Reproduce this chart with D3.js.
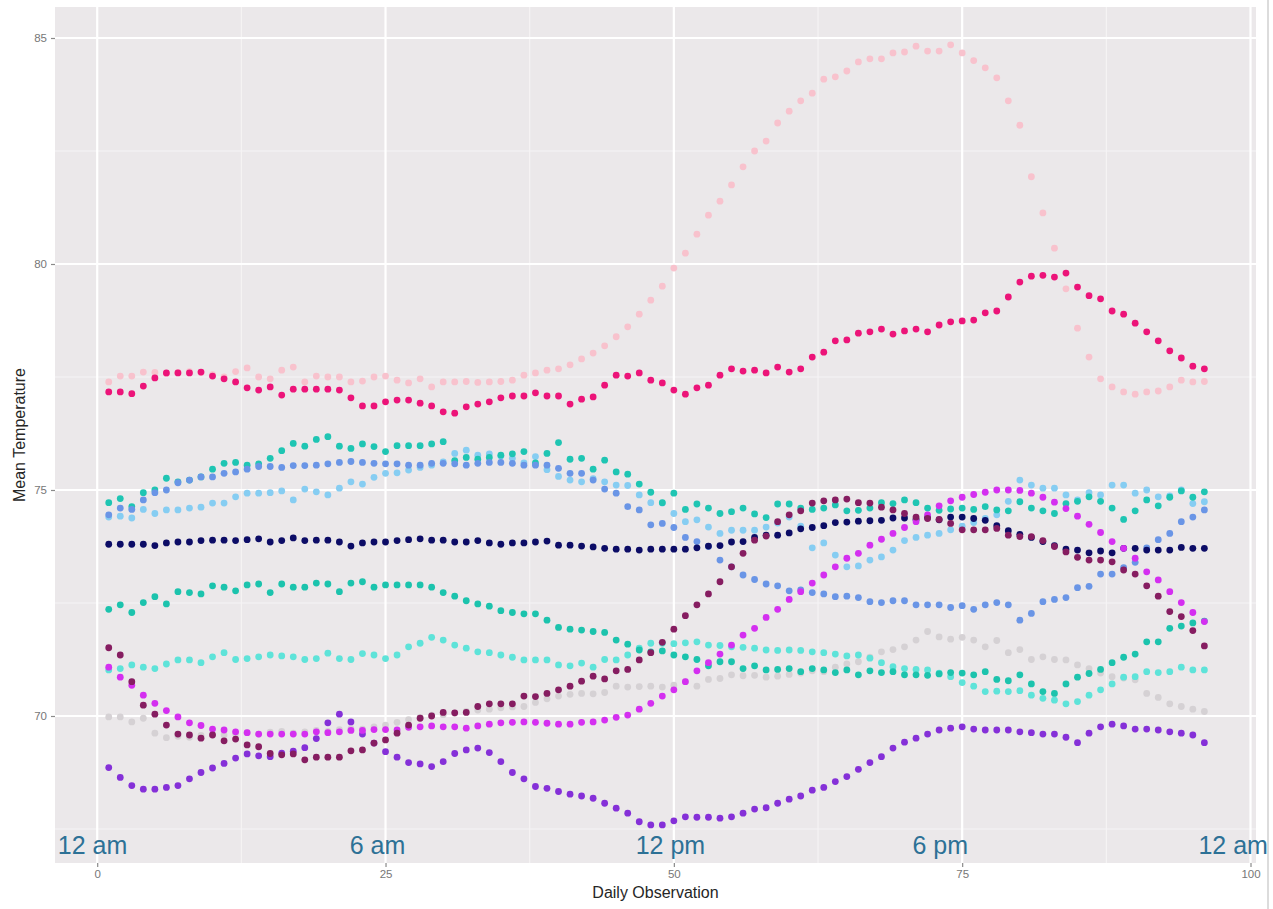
<!DOCTYPE html>
<html>
<head>
<meta charset="utf-8">
<script src="https://cdn.jsdelivr.net/npm/d3@7"></script>
<style>
  html, body { margin: 0; padding: 0; background: #ffffff; }
  svg { display: block; font-family: "Liberation Sans", Arial, Helvetica, sans-serif; }
</style>
</head>
<body>
<script>
// Observation index within the day (15-minute intervals)
const observations = d3.range(1, 97);

// Mean temperature per observation, one array per sensor
const lightgrayTemps = [
  69.98,69.98,69.87,69.95,69.62,69.52,69.55,69.53,69.57,69.60,
  69.58,69.61,69.63,69.60,69.64,69.66,69.62,69.65,69.68,69.66,
  69.70,69.72,69.71,69.76,69.80,69.86,69.92,69.97,70.02,70.03,
  70.06,70.10,70.13,70.15,70.18,70.20,70.21,70.30,70.38,70.44,
  70.48,70.50,70.49,70.52,70.66,70.64,70.65,70.66,70.64,70.68,
  70.76,70.66,70.81,70.83,70.91,70.89,70.90,70.86,70.88,70.92,
  70.95,71.00,70.98,71.08,71.15,71.20,71.30,71.42,71.47,71.53,
  71.68,71.87,71.75,71.70,71.74,71.68,71.53,71.67,71.40,71.47,
  71.25,71.31,71.25,71.24,71.13,71.05,70.95,70.87,70.84,70.80,
  70.50,70.41,70.27,70.21,70.15,70.10];

const pinkTemps = [
  77.39,77.52,77.52,77.61,77.60,77.58,77.60,77.62,77.60,77.55,
  77.50,77.62,77.70,77.50,77.46,77.65,77.72,77.39,77.52,77.50,
  77.50,77.39,77.41,77.50,77.52,77.43,77.37,77.46,77.28,77.39,
  77.39,77.40,77.38,77.39,77.40,77.43,77.54,77.59,77.65,77.68,
  77.77,77.90,78.03,78.19,78.39,78.61,78.89,79.20,79.51,79.91,
  80.24,80.66,81.08,81.39,81.75,82.15,82.50,82.72,83.12,83.38,
  83.61,83.78,84.09,84.14,84.27,84.47,84.54,84.54,84.67,84.69,
  84.82,84.71,84.71,84.85,84.67,84.50,84.34,84.12,83.61,83.07,
  81.93,81.13,80.35,79.45,78.58,77.94,77.46,77.28,77.17,77.12,
  77.17,77.19,77.28,77.43,77.39,77.40];

const turquoiseTemps = [
  71.02,71.05,71.13,71.08,71.05,71.15,71.24,71.24,71.18,71.31,
  71.40,71.25,71.27,71.31,71.35,71.33,71.31,71.25,71.27,71.39,
  71.27,71.25,71.38,71.35,71.27,71.35,71.53,71.61,71.74,71.68,
  71.57,71.50,71.42,71.40,71.35,71.30,71.24,71.24,71.24,71.13,
  71.11,71.17,71.08,71.25,71.24,71.35,71.50,71.61,71.61,71.60,
  71.62,71.64,71.57,71.56,71.53,71.52,71.50,71.46,71.45,71.46,
  71.45,71.42,71.40,71.37,71.33,71.35,71.28,71.18,71.09,71.05,
  71.03,71.02,70.95,70.87,70.74,70.66,70.54,70.55,70.54,70.56,
  70.46,70.39,70.35,70.27,70.32,70.46,70.58,70.71,70.86,70.87,
  70.98,70.96,70.98,71.08,71.02,71.02];

const seagreenTemps = [
  72.36,72.46,72.29,72.51,72.64,72.48,72.75,72.73,72.70,72.88,
  72.85,72.77,72.90,72.92,72.73,72.92,72.85,72.85,72.94,72.92,
  72.75,72.94,72.97,72.85,72.90,72.90,72.90,72.90,72.85,72.73,
  72.65,72.55,72.48,72.43,72.33,72.29,72.26,72.26,72.12,71.96,
  71.92,71.90,71.87,71.85,71.68,71.59,71.46,71.42,71.44,71.35,
  71.31,71.25,71.11,71.20,71.20,71.05,71.11,71.02,71.03,71.05,
  70.98,71.05,71.02,70.96,71.02,70.91,71.00,70.96,70.98,70.91,
  70.91,70.90,70.93,70.96,70.95,70.91,70.98,70.81,70.78,70.91,
  70.71,70.54,70.50,70.71,70.86,70.94,71.03,71.18,71.30,71.37,
  71.64,71.64,71.94,71.99,72.06,72.10];

const skyblueTemps = [
  74.40,74.42,74.38,74.57,74.48,74.56,74.56,74.60,74.62,74.71,
  74.71,74.85,74.93,74.93,74.94,74.98,74.78,75.02,74.96,74.89,
  75.04,75.18,75.13,75.28,75.37,75.38,75.44,75.50,75.55,75.62,
  75.81,75.88,75.77,75.80,75.75,75.70,75.60,75.74,75.45,75.30,
  75.22,75.18,75.25,75.18,75.11,75.10,74.89,74.72,74.71,74.48,
  74.30,74.34,74.18,74.04,74.11,74.11,74.11,74.18,74.27,74.40,
  74.20,73.72,73.83,73.56,73.30,73.32,73.45,73.52,73.67,73.88,
  73.95,74.00,74.04,74.12,74.20,74.28,74.37,74.45,74.75,75.22,
  75.11,75.04,75.04,74.89,74.78,74.94,74.89,75.11,75.11,74.93,
  75.00,74.85,74.87,75.00,74.70,74.74];

const tealTemps = [
  74.72,74.81,74.63,74.94,75.00,75.26,75.18,75.22,75.29,75.46,
  75.59,75.61,75.55,75.58,75.70,75.87,76.03,75.97,76.12,76.18,
  75.97,75.92,76.02,75.96,75.85,75.98,75.98,75.98,76.02,76.07,
  75.65,75.72,75.68,75.72,75.77,75.80,75.85,75.60,75.81,76.05,
  75.68,75.70,75.46,75.66,75.40,75.35,75.13,74.95,74.72,74.93,
  74.57,74.69,74.60,74.48,74.52,74.60,74.47,74.39,74.69,74.69,
  74.60,74.57,74.60,74.67,74.54,74.55,74.60,74.72,74.70,74.78,
  74.72,74.60,74.55,74.58,74.60,74.57,74.63,74.56,74.54,74.74,
  74.60,74.54,74.48,74.70,74.75,74.85,74.75,74.60,74.35,74.54,
  74.78,74.65,74.84,74.98,74.84,74.96];

const cornflowerTemps = [
  74.45,74.60,74.57,74.78,74.94,75.00,75.16,75.22,75.29,75.29,
  75.37,75.40,75.46,75.52,75.52,75.50,75.54,75.54,75.55,75.58,
  75.61,75.63,75.61,75.59,75.58,75.58,75.55,75.55,75.59,75.59,
  75.58,75.55,75.59,75.61,75.61,75.59,75.55,75.55,75.55,75.48,
  75.37,75.37,75.22,75.02,74.93,74.63,74.56,74.23,74.26,74.17,
  73.95,73.86,73.75,73.45,73.30,73.12,73.02,72.92,72.88,72.77,
  72.79,72.73,72.70,72.64,72.65,72.62,72.53,72.51,72.55,72.55,
  72.46,72.46,72.46,72.40,72.44,72.36,72.46,72.51,72.46,72.12,
  72.27,72.53,72.58,72.62,72.84,72.87,73.14,73.14,73.28,73.40,
  73.72,73.90,74.04,74.30,74.40,74.56];

const navyTemps = [
  73.80,73.80,73.80,73.80,73.77,73.83,73.85,73.85,73.88,73.89,
  73.89,73.88,73.90,73.92,73.85,73.88,73.94,73.88,73.89,73.89,
  73.85,73.76,73.83,73.85,73.85,73.88,73.90,73.92,73.89,73.89,
  73.85,73.85,73.88,73.83,73.80,73.83,73.83,73.85,73.87,73.78,
  73.78,73.76,73.74,73.71,73.69,73.69,73.67,73.69,73.69,73.69,
  73.69,73.72,73.76,73.77,73.85,73.86,73.95,74.00,74.00,74.05,
  74.14,74.17,74.21,74.28,74.29,74.31,74.32,74.33,74.38,74.38,
  74.35,74.39,74.34,74.40,74.40,74.37,74.33,74.21,74.10,74.02,
  73.95,73.86,73.77,73.69,73.67,73.61,73.65,73.61,73.71,73.71,
  73.67,73.67,73.67,73.73,73.71,73.71];

const violetTemps = [
  68.86,68.64,68.46,68.38,68.38,68.42,68.46,68.61,68.75,68.85,
  68.95,69.07,69.16,69.12,69.10,69.18,69.22,69.30,69.50,69.85,
  70.04,69.87,69.60,69.40,69.21,69.09,68.97,68.94,68.88,68.99,
  69.17,69.25,69.29,69.19,68.99,68.75,68.61,68.44,68.40,68.33,
  68.27,68.23,68.18,68.07,67.96,67.85,67.66,67.59,67.59,67.68,
  67.77,67.76,67.76,67.74,67.77,67.85,67.94,67.97,68.07,68.16,
  68.23,68.36,68.42,68.55,68.66,68.82,68.97,69.10,69.29,69.42,
  69.51,69.60,69.69,69.73,69.76,69.71,69.69,69.69,69.69,69.65,
  69.63,69.60,69.60,69.53,69.41,69.62,69.76,69.82,69.78,69.71,
  69.71,69.69,69.65,69.62,69.58,69.41];

const orchidTemps = [
  71.08,70.86,70.68,70.46,70.28,70.12,69.98,69.85,69.79,69.71,
  69.69,69.65,69.63,69.60,69.60,69.60,69.60,69.60,69.65,69.63,
  69.65,69.68,69.68,69.70,69.70,69.69,69.75,69.76,69.78,69.76,
  69.76,69.73,69.78,69.82,69.85,69.86,69.87,69.86,69.84,69.82,
  69.82,69.86,69.87,69.91,69.97,70.02,70.15,70.28,70.44,70.58,
  70.76,71.00,71.18,71.37,71.57,71.79,71.94,72.18,72.36,72.58,
  72.75,72.94,73.12,73.30,73.49,73.60,73.78,73.91,74.04,74.17,
  74.30,74.45,74.65,74.76,74.84,74.90,74.95,75.00,75.00,74.99,
  74.93,74.84,74.73,74.59,74.42,74.24,74.06,73.86,73.71,73.49,
  73.19,73.01,72.75,72.51,72.29,72.09];

const maroonTemps = [
  71.51,71.35,70.76,70.24,70.04,69.80,69.60,69.58,69.51,69.58,
  69.45,69.49,69.36,69.32,69.17,69.14,69.16,69.03,69.09,69.09,
  69.09,69.23,69.25,69.40,69.47,69.62,69.80,69.95,70.00,70.08,
  70.07,70.08,70.21,70.27,70.27,70.27,70.44,70.43,70.50,70.58,
  70.66,70.77,70.88,70.82,71.00,71.03,71.24,71.40,71.63,71.92,
  72.22,72.46,72.70,72.97,73.30,73.60,73.89,73.98,74.30,74.45,
  74.54,74.71,74.76,74.78,74.80,74.72,74.71,74.62,74.56,74.48,
  74.40,74.37,74.35,74.26,74.12,74.12,74.12,74.15,74.00,73.97,
  73.97,73.88,73.75,73.63,73.51,73.45,73.45,73.41,73.23,73.14,
  72.88,72.65,72.31,72.20,71.89,71.55];

const deeppinkTemps = [
  77.17,77.17,77.13,77.30,77.48,77.59,77.59,77.59,77.61,77.52,
  77.46,77.39,77.26,77.21,77.28,77.10,77.23,77.23,77.23,77.23,
  77.21,77.04,76.86,76.86,76.95,76.99,76.99,76.92,76.86,76.73,
  76.70,76.84,76.90,76.95,77.04,77.08,77.08,77.15,77.08,77.08,
  76.90,77.01,77.06,77.32,77.54,77.52,77.59,77.43,77.37,77.21,
  77.12,77.26,77.32,77.54,77.68,77.63,77.65,77.59,77.72,77.61,
  77.68,77.94,78.05,78.30,78.32,78.47,78.50,78.56,78.45,78.52,
  78.56,78.50,78.65,78.72,78.74,78.76,78.92,78.96,79.27,79.60,
  79.73,79.75,79.71,79.80,79.49,79.30,79.23,78.96,78.89,78.69,
  78.50,78.30,78.08,77.92,77.74,77.68];

// Series in drawing order (later ones sit on top) with their colours
const seriesValues = [lightgrayTemps, pinkTemps, turquoiseTemps, skyblueTemps, seagreenTemps,
  tealTemps, cornflowerTemps, navyTemps, violetTemps, orchidTemps, maroonTemps, deeppinkTemps];
const seriesColors = ["#d5d1d4", "#f8c2cd", "#5ee3d9", "#86cdf2", "#1cc3ad",
  "#1fc5b3", "#6a95e6", "#0c0c66", "#8530d8", "#d42ff0", "#861d61", "#ec1479"];

// Axis ticks
const xTicks = [0, 25, 50, 75, 100];
const xMinor = [12.5, 37.5, 62.5, 87.5];
const yTicks = [70, 75, 80, 85];
const yMinor = [67.5, 72.5, 77.5, 82.5];

// Time-of-day labels along the bottom of the panel
const timeLabels = ["12 am", "6 am", "12 pm", "6 pm", "12 am"];
const timeLabelObs = [-0.4, 24.3, 49.7, 73.1, 98.5];
const timeLabelTemp = 67.15;

const W = 1273, H = 909;
const panel = { left: 55, right: 1256, top: 7, bottom: 863 };

const x = d3.scaleLinear().domain([0, 100]).range([97.2, 1250.5]);
const y = d3.scaleLinear().domain([70, 85]).range([716, 38]);

const svg = d3.select("body").append("svg")
  .attr("width", W).attr("height", H);

// panel background
svg.append("rect")
  .attr("x", panel.left).attr("y", panel.top)
  .attr("width", panel.right - panel.left).attr("height", panel.bottom - panel.top)
  .attr("fill", "#ebe8ea");

const grid = svg.append("g");
// minor grid
grid.selectAll("line.vminor").data(xMinor).join("line")
  .attr("x1", d => x(d)).attr("x2", d => x(d))
  .attr("y1", panel.top).attr("y2", panel.bottom)
  .attr("stroke", "#f6f4f5").attr("stroke-width", 1.1);
grid.selectAll("line.hminor").data(yMinor).join("line")
  .attr("x1", panel.left).attr("x2", panel.right)
  .attr("y1", d => y(d)).attr("y2", d => y(d))
  .attr("stroke", "#f6f4f5").attr("stroke-width", 1.1);
// major grid
grid.selectAll("line.vmajor").data(xTicks).join("line")
  .attr("x1", d => x(d)).attr("x2", d => x(d))
  .attr("y1", panel.top).attr("y2", panel.bottom)
  .attr("stroke", "#ffffff").attr("stroke-width", 2.2);
grid.selectAll("line.hmajor").data(yTicks).join("line")
  .attr("x1", panel.left).attr("x2", panel.right)
  .attr("y1", d => y(d)).attr("y2", d => y(d))
  .attr("stroke", "#ffffff").attr("stroke-width", 2.2);

// axes
const xAxis = svg.append("g")
  .attr("transform", `translate(0,${panel.bottom})`)
  .call(d3.axisBottom(x).tickValues(xTicks).tickSize(4).tickPadding(3));
const yAxis = svg.append("g")
  .attr("transform", `translate(${panel.left},0)`)
  .call(d3.axisLeft(y).tickValues(yTicks).tickSize(4).tickPadding(4));
[xAxis, yAxis].forEach(g => {
  g.select(".domain").remove();
  g.selectAll(".tick line").attr("stroke", "#8a8a8a").attr("stroke-width", 1.2);
  g.selectAll(".tick text").attr("fill", "#777777")
    .style("font-size", "11.5px")
    .style("font-family", "'Liberation Sans', Arial, sans-serif");
});

// points
const pts = svg.append("g");
seriesValues.forEach((vals, s) => {
  pts.append("g").selectAll("circle").data(vals).join("circle")
    .attr("cx", (d, i) => x(observations[i]))
    .attr("cy", d => y(d))
    .attr("r", 3.4)
    .attr("fill", seriesColors[s]);
});

// time-of-day labels
svg.append("g").selectAll("text").data(timeLabels).join("text")
  .attr("x", (d, i) => x(timeLabelObs[i]))
  .attr("y", y(timeLabelTemp))
  .attr("dy", "0.35em")
  .attr("text-anchor", "middle")
  .attr("fill", "#2d7196")
  .style("font-size", "25px")
  .text(d => d);

// axis titles
svg.append("text")
  .attr("x", (panel.left + panel.right) / 2).attr("y", 898)
  .attr("text-anchor", "middle")
  .attr("fill", "#262626")
  .style("font-size", "16px")
  .text("Daily Observation");
svg.append("text")
  .attr("transform", `translate(25,${(panel.top + panel.bottom) / 2}) rotate(-90)`)
  .attr("text-anchor", "middle")
  .attr("fill", "#262626")
  .style("font-size", "16px")
  .text("Mean Temperature");

// thin frame line at the right of the figure
svg.append("line")
  .attr("x1", 1268).attr("x2", 1268).attr("y1", 0).attr("y2", H)
  .attr("stroke", "#dcdcdc").attr("stroke-width", 2);
</script>
</body>
</html>
